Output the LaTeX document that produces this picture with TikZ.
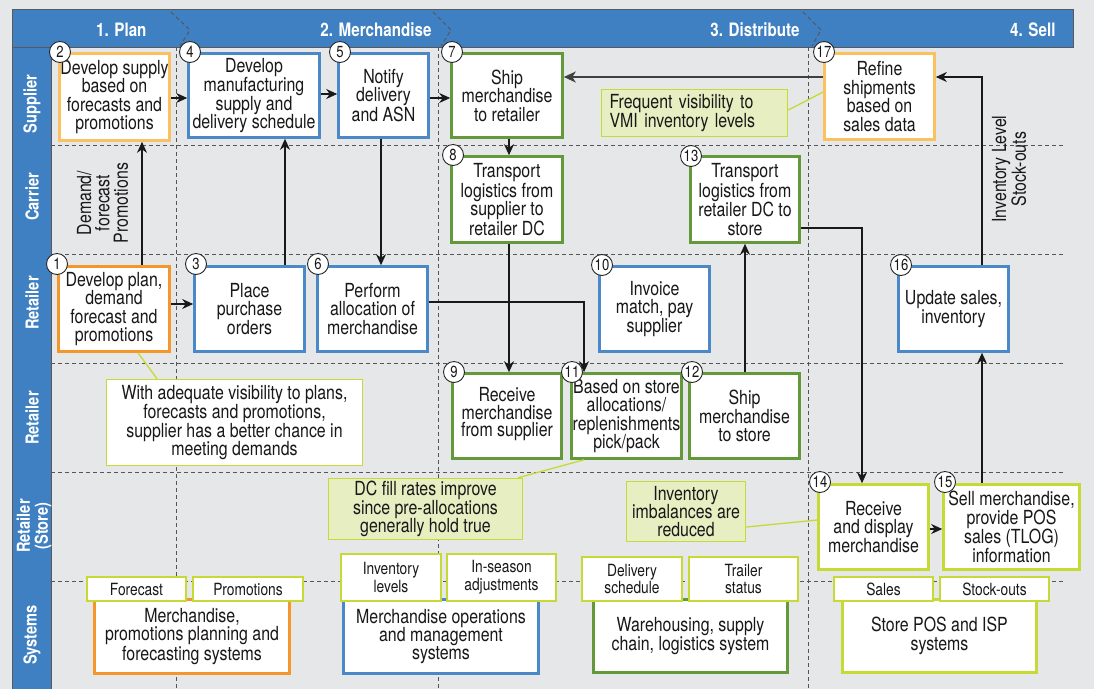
\documentclass[tikz,border=0pt]{standalone}
\usepackage{fontspec}
\setmainfont{TeX Gyre Heros}[FakeStretch=0.82]
\usetikzlibrary{arrows.meta}
\definecolor{bg}{HTML}{E6E7E9}
\definecolor{hdr}{HTML}{3F80C2}
\definecolor{bblue}{HTML}{4A88C7}
\definecolor{bgreen}{HTML}{63993A}
\definecolor{borange}{HTML}{F5962A}
\definecolor{blorange}{HTML}{FBC060}
\definecolor{byg}{HTML}{C6D934}
\definecolor{cfill}{HTML}{E7EFC2}
\definecolor{gridc}{HTML}{555555}
\definecolor{txt}{HTML}{1A1718}
\newcommand{\bxf}{\fontsize{19.4}{18.4}\selectfont}
\newcommand{\tbf}{\fontsize{16.8}{17.7}\selectfont}
\newcommand{\hdf}{\fontsize{18.5}{18}\selectfont\bfseries}
\newcommand{\lnf}{\fontsize{17.8}{18}\selectfont\bfseries}
\newcommand{\ncf}{\fontsize{16}{16}\selectfont}
\tikzset{
  sz/.style 2 args={minimum width=#1pt, minimum height=#2pt},
  pbox/.style={draw=#1, line width=2.6pt, fill=white, inner sep=0pt, align=center, font=\bxf, text=txt},
  sysbox/.style={draw=#1, line width=2.8pt, fill=white, inner sep=0pt, align=center, font=\bxf, text=txt},
  tab/.style={draw=byg, line width=1.5pt, fill=white, inner sep=0pt, align=center, font=\tbf, text=txt},
  callw/.style={draw=byg, line width=1.5pt, fill=white, inner sep=0pt, align=center, font=\bxf, text=txt},
  callg/.style={draw=byg, line width=1.5pt, fill=cfill, inner sep=0pt, align=center, font=\bxf, text=txt},
  numc/.style={circle, draw=black!85, line width=0.9pt, fill=white, inner sep=0pt, minimum size=21pt, font=\ncf, text=txt},
  lane/.style={rotate=90, font=\lnf, text=white, align=center},
  hdrtext/.style={font=\hdf, text=white, anchor=base east},
  gridl/.style={draw=gridc, line width=0.9pt, dash pattern=on 4pt off 3pt},
  arr/.style={draw=black!90, line width=1.2pt, -{Stealth[length=11pt, width=10pt, inset=3.5pt]}},
  arrd/.style={draw=black!75, line width=1.8pt, -{Stealth[length=12pt, width=11pt, inset=3.5pt]}},
  cline/.style={draw=byg, line width=1.3pt},
  rtext/.style={rotate=90, align=center, font=\bxf, text=txt}
}
\begin{document}
\begin{tikzpicture}[x=1pt,y=-1pt]
\useasboundingbox (0,0) rectangle (1094,689);
\fill[bg] (0,0) rectangle (1094,689);

% header and left column
\fill[hdr] (12,47) rectangle (51,689);
\draw[black!65, line width=0.9pt] (12,47) -- (12,689) (51,47) -- (51,689);
\filldraw[fill=hdr, draw=black!65, line width=1pt] (12,9) rectangle (1073,47);

% grid
\foreach \yy in {145,254,363,472,581} \draw[gridl] (51,\yy) -- (1063,\yy);
\foreach \xx in {176,438,808} \draw[gridl] (\xx,47) -- (\xx,689);
\draw[gridl] (171,12) -- (190,30) -- (180,46);
\draw[gridl] (433,12) -- (451,30) -- (441,46);
\draw[gridl] (803,12) -- (821,30) -- (812,46);

% header labels
\node[hdrtext] (H1) at (150,36) {1. Plan};
\node[hdrtext] (H2) at (435,36) {2. Merchandise};
\node[hdrtext] (H3) at (803,36) {3. Distribute};
\node[hdrtext] (H4) at (1059,36) {4. Sell};

% lane labels
\node[lane] (L1) at (32,104) {Supplier};
\node[lane] (L2) at (32,197) {Carrier};
\node[lane] (L3) at (32,303) {Retailer};
\node[lane] (L4) at (32,418) {Retailer};
\node[lane] (L5) at (34,526) {Retailer\\(Store)};
\node[lane] (L6) at (32,635) {Systems};

% process boxes
\node[pbox=blorange, sz={110}{87}] (N2) at (114.5,97) {Develop supply\\based on\\forecasts and\\promotions};
\node[pbox=bblue, sz={131}{84}] (N4) at (254,95.5) {Develop\\manufacturing\\supply and\\delivery schedule};
\node[pbox=bblue, sz={90}{84}] (N5) at (383.5,95.5) {Notify\\delivery\\and ASN};
\node[pbox=bgreen, sz={111}{84}] (N7) at (507,95.5) {Ship\\merchandise\\to retailer};
\node[pbox=blorange, sz={110}{86}] (N17) at (879.5,96.5) {Refine\\shipments\\based on\\sales data};
\node[pbox=bgreen, sz={111}{86}] (N8) at (507,199.5) {Transport\\logistics from\\supplier to\\retailer DC};
\node[pbox=bgreen, sz={109}{86}] (N13) at (745,199.5) {Transport\\logistics from\\retailer DC to\\store};
\node[pbox=borange, sz={111}{85}] (N1) at (114,309) {Develop plan,\\demand\\forecast and\\promotions};
\node[pbox=bblue, sz={110}{85}] (N3) at (249.5,309) {Place\\purchase\\orders};
\node[pbox=bblue, sz={110}{85}] (N6) at (372.5,309) {Perform\\allocation of\\merchandise};
\node[pbox=bblue, sz={110}{85}] (N10) at (654.5,309) {Invoice\\match, pay\\supplier};
\node[pbox=bblue, sz={110}{85}] (N16) at (953.5,309) {Update sales,\\inventory};
\node[pbox=bgreen, sz={109}{85}] (N9) at (507,416) {\raisebox{8pt}{\shortstack{Receive\\merchandise\\from supplier}}};
\node[pbox=bgreen, sz={110}{85}] (N11) at (626.5,416) {Based on store\\allocations/\\replenishments\\pick/pack};
\node[pbox=bgreen, sz={110}{85}] (N12) at (744.5,416) {Ship\\merchandise\\to store};
\node[pbox=byg, sz={110}{85}] (N14) at (873.5,527) {Receive\\and display\\merchandise};
\node[pbox=byg, sz={136}{85}] (N15) at (1011.5,527) {Sell merchandise,\\provide POS\\sales (TLOG)\\information};

% number circles
\node[numc] (n1) at (57,264) {1};
\node[numc] (n2) at (60,52) {2};
\node[numc] (n3) at (196,264) {3};
\node[numc] (n4) at (190,52) {4};
\node[numc] (n5) at (340,52) {5};
\node[numc] (n6) at (318,264) {6};
\node[numc] (n7) at (452,52) {7};
\node[numc] (n8) at (453,155) {8};
\node[numc] (n9) at (454,372) {9};
\node[numc] (n10) at (602,265) {10};
\node[numc] (n11) at (572,372) {11};
\node[numc] (n12) at (692,372) {12};
\node[numc] (n13) at (691,156) {13};
\node[numc] (n14) at (820,482) {14};
\node[numc] (n15) at (945,482) {15};
\node[numc] (n16) at (901,265) {16};
\node[numc] (n17) at (824,52) {17};

% callouts
\node[callw, sz={256}{86}] (C1) at (234.5,422.5) {With adequate visibility to plans,\\forecasts and promotions,\\supplier has a better chance in\\meeting demands};
\node[callg, sz={194}{61}] (C2) at (425.5,509) {DC fill rates improve\\since pre-allocations\\generally hold true};
\node[callg, sz={119}{60}] (C3) at (686,511.5) {Inventory\\imbalances are\\reduced};
\node[callg, sz={186}{47}, align=left, text width=170pt] (C4) at (694.5,113) {Frequent visibility to\\VMI inventory levels};

% systems
\node[sysbox=borange, sz={195}{74}] (S1) at (192,636.5) {Merchandise,\\promotions planning and\\forecasting systems};
\node[sysbox=bblue, sz={195}{74}] (S2) at (441,636.5) {Merchandise operations\\and management\\systems};
\node[sysbox=bgreen, sz={194}{73}] (S3) at (690.5,636) {Warehousing, supply\\chain, logistics system};
\node[sysbox=byg, sz={194}{73}] (S4) at (939.5,636) {Store POS and ISP\\systems};
\node[tab, sz={99}{24}] (T1) at (136.5,589) {Forecast};
\node[tab, sz={110}{24}] (T2) at (248,589) {Promotions};
\node[tab, sz={100}{47}] (T3) at (391,577.5) {Inventory\\levels};
\node[tab, sz={109}{47}] (T4) at (501.5,577.5) {In-season\\adjustments};
\node[tab, sz={100}{44}] (T5) at (632,579) {Delivery\\schedule};
\node[tab, sz={109}{44}] (T6) at (743.5,579) {Trailer\\status};
\node[tab, sz={99}{24}] (T7) at (883.5,589) {Sales};
\node[tab, sz={109}{24}] (T8) at (994.5,589) {Stock-outs};

% rotated flow labels
\node[rtext] (LD) at (102.5,203) {Demand/\\forecast\\Promotions};
\node[rtext] (LI) at (1009,169) {Inventory Level\\Stock-outs};

% routing coordinates
\coordinate (a1x) at (142,0);
\coordinate (a3x) at (285,0);
\coordinate (a5x) at (381,0);
\coordinate (a7x) at (509,0);
\coordinate (a11x) at (584,0);
\coordinate (a12x) at (745,0);
\coordinate (a14x) at (862,0);
\coordinate (a15x) at (982,0);
\coordinate (r1y) at (0,98);
\coordinate (r2y) at (0,94);
\coordinate (r3y) at (0,304);
\coordinate (r4y) at (0,529);
\coordinate (a6y) at (0,302);
\coordinate (a13y) at (0,228);
\coordinate (a17y) at (0,77);

% connectors
\draw[arr] (N1.north -| a1x) -- (N2.south -| a1x);
\draw[arr] (N2.east |- r1y) -- (N4.west |- r1y);
\draw[arr] (N4.east |- r2y) -- (N5.west |- r2y);
\draw[arr] (N5.east |- r1y) -- (N7.west |- r1y);
\draw[arr] (N1.east |- r3y) -- (N3.west |- r3y);
\draw[arr] (N3.north -| a3x) -- (N4.south -| a3x);
\draw[arr] (N5.south -| a5x) -- (N6.north -| a5x);
\draw[arr] (N7.south -| a7x) -- (N8.north -| a7x);
\draw[arr] (N8.south -| a7x) -- (N9.north -| a7x);
\draw[arr] (N6.east |- a6y) -| (N11.north -| a11x);
\draw[arr] (N12.north -| a12x) -- (N13.south -| a12x);
\draw[arr] (N13.east |- a13y) -| (N14.north -| a14x);
\draw[arr] (N14.east |- r4y) -- (N15.west |- r4y);
\draw[arr] (N15.north -| a15x) -- (N16.south -| a15x);
\draw[arr] (N16.north -| a15x) |- (N17.east |- a17y);
\draw[arrd] (N17.west |- a17y) -- (N7.east |- a17y);

% callout connectors
\coordinate (k1a) at (157,0);
\coordinate (k1b) at (138,0);
\coordinate (k2a) at (518,0);
\coordinate (k3a) at (0,527);
\coordinate (k3b) at (0,520);
\coordinate (k4a) at (0,110);
\coordinate (k4b) at (0,92);
\draw[cline] (C1.north -| k1a) -- (N1.south -| k1b);
\draw[cline] (C2.north -| k2a) -- (N11.south -| a11x);
\draw[cline] (C3.east |- k3a) -- (N14.west |- k3b);
\draw[cline] (C4.east |- k4a) -- (N17.west |- k4b);
\end{tikzpicture}
\end{document}
